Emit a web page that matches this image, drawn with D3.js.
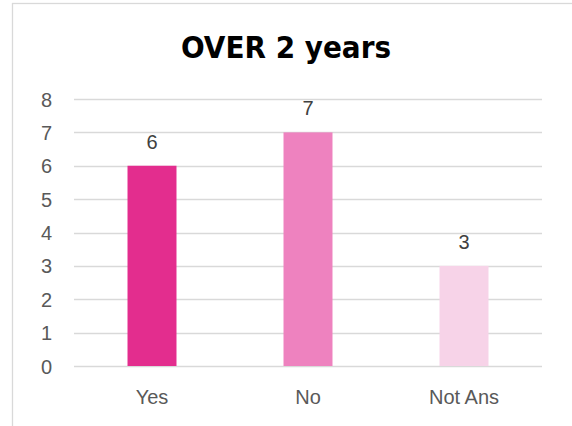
<!DOCTYPE html>
<html>
<head>
<meta charset="utf-8">
<script src="https://cdn.jsdelivr.net/npm/d3@7"></script>
<style>
  html, body { margin: 0; padding: 0; background: #fff; }
  svg { display: block; }
</style>
</head>
<body>
<svg id="chart" width="572" height="426"></svg>
<script>
// Survey answers for the "OVER 2 years" group
const categories = ["Yes", "No", "Not Ans"];
const counts = [6, 7, 3];
const barColors = ["#E32D8E", "#EE82BF", "#F7D3E8"];
const yTicks = [0, 1, 2, 3, 4, 5, 6, 7, 8];
const chartTitle = "OVER 2 years";

const svg = d3.select("#chart");
const W = 572, H = 426;

// Outer chart frame (open on the right/bottom edges of the view)
svg.append("rect")
  .attr("x", 12.5).attr("y", 3.5)
  .attr("width", 600).attr("height", 500)
  .attr("fill", "#fff")
  .attr("stroke", "#d9d9d9")
  .attr("stroke-width", 1.3);

const plot = { left: 74, right: 542, top: 99, bottom: 366 };

const x = d3.scaleBand()
  .domain(categories)
  .range([plot.left, plot.right])
  .paddingInner(0)
  .paddingOuter(0);

const y = d3.scaleLinear()
  .domain([0, 8])
  .range([plot.bottom, plot.top]);

// Horizontal gridlines
svg.append("g")
  .selectAll("line")
  .data(yTicks)
  .join("line")
  .attr("x1", plot.left).attr("x2", plot.right)
  .attr("y1", d => Math.round(y(d)) + 0.5)
  .attr("y2", d => Math.round(y(d)) + 0.5)
  .attr("stroke", "#d9d9d9")
  .attr("stroke-width", 1.3);

// Y axis labels
const yAxis = d3.axisLeft(y).tickValues(yTicks).tickSize(0).tickPadding(0)
  .tickFormat(d3.format("d"));
const yg = svg.append("g")
  .attr("transform", `translate(52,0)`)
  .call(yAxis);
yg.select(".domain").remove();
yg.selectAll("text")
  .attr("font-family", "'Liberation Sans', Arial, sans-serif")
  .attr("font-size", 20)
  .attr("fill", "#595959")
  .attr("dy", "0.35em");

// Bars
const barW = x.bandwidth() * 0.314;
const data = categories.map((c, i) => ({ cat: c, value: counts[i], color: barColors[i] }));

svg.append("g")
  .selectAll("rect")
  .data(data)
  .join("rect")
  .attr("x", d => x(d.cat) + x.bandwidth() / 2 - barW / 2)
  .attr("width", barW)
  .attr("y", d => y(d.value))
  .attr("height", d => y(0) - y(d.value))
  .attr("fill", d => d.color);

// Value labels above bars
svg.append("g")
  .selectAll("text")
  .data(data)
  .join("text")
  .attr("x", d => x(d.cat) + x.bandwidth() / 2)
  .attr("y", d => y(d.value) - 17)
  .attr("text-anchor", "middle")
  .attr("font-family", "'Liberation Sans', Arial, sans-serif")
  .attr("font-size", 20)
  .attr("fill", "#404040")
  .text(d => d.value);

// Category labels
const xAxis = d3.axisBottom(x).tickSize(0).tickPadding(0);
const xg = svg.append("g")
  .attr("transform", `translate(0,404)`)
  .call(xAxis);
xg.select(".domain").remove();
xg.selectAll("text")
  .attr("font-family", "'Liberation Sans', Arial, sans-serif")
  .attr("font-size", 20)
  .attr("fill", "#595959")
  .attr("dy", 0);

// Title
svg.append("text")
  .attr("x", 286)
  .attr("y", 58)
  .attr("text-anchor", "middle")
  .attr("font-family", "'DejaVu Sans Condensed', 'DejaVu Sans', sans-serif")
  .attr("font-weight", "bold")
  .attr("font-size", 31)
  .attr("fill", "#000")
  .text(chartTitle);
</script>
</body>
</html>
